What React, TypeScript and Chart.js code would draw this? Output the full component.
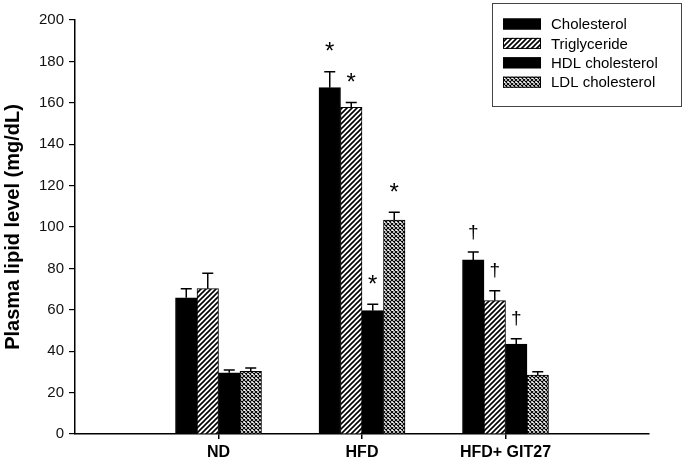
import React, { useEffect, useRef } from 'react';
import { Chart, registerables } from 'chart.js';

Chart.register(...registerables);

const groups = ['ND', 'HFD', 'HFD+ GIT27'];
const cholesterol = [65.8, 167.3, 84.1];
const cholesterolErr = [4.4, 7.7, 3.8];
const triglyceride = [70.2, 157.8, 64.4];
const triglycerideErr = [7.4, 2.4, 4.8];
const hdl = [29.6, 59.6, 43.5];
const hdlErr = [1.3, 3.1, 2.5];
const ldl = [30.3, 103.4, 28.5];
const ldlErr = [1.6, 3.7, 1.6];
const cholesterolMarks = ['', '*', '†'];
const triglycerideMarks = ['', '*', '†'];
const hdlMarks = ['', '*', '†'];
const ldlMarks = ['', '*', ''];
const seriesNames = ['Cholesterol', 'Triglyceride', 'HDL cholesterol', 'LDL cholesterol'];
const yTitle = 'Plasma lipid level (mg/dL)';

const FONT = '"Liberation Sans", Arial, sans-serif';

function makeHatch(): CanvasPattern | string {
  const c = document.createElement('canvas');
  c.width = 5;
  c.height = 5;
  const g = c.getContext('2d');
  if (!g) return '#fff';
  g.fillStyle = '#fff';
  g.fillRect(0, 0, 5, 5);
  g.strokeStyle = '#000';
  g.lineWidth = 1.6;
  g.beginPath();
  g.moveTo(-1, 6);
  g.lineTo(6, -1);
  g.moveTo(-6, 6);
  g.lineTo(1, -1);
  g.moveTo(4, 6);
  g.lineTo(11, -1);
  g.stroke();
  return g.createPattern(c, 'repeat') || '#fff';
}

function makeCross(): CanvasPattern | string {
  const c = document.createElement('canvas');
  c.width = 4;
  c.height = 4;
  const g = c.getContext('2d');
  if (!g) return '#888';
  g.fillStyle = '#fff';
  g.fillRect(0, 0, 4, 4);
  g.strokeStyle = '#000';
  g.lineWidth = 1.1;
  g.beginPath();
  for (let k = -8; k <= 8; k += 4) {
    g.moveTo(k, 0);
    g.lineTo(k + 4, 4);
    g.moveTo(k, 4);
    g.lineTo(k + 4, 0);
  }
  g.stroke();
  return g.createPattern(c, 'repeat') || '#888';
}

export default function App() {
  const ref = useRef<HTMLCanvasElement | null>(null);

  useEffect(() => {
    document.body.style.margin = '0';
    const canvas = ref.current;
    if (!canvas) return;
    const hatch = makeHatch();
    const cross = makeCross();
    const fills: any[] = ['#000', hatch, '#000', cross];
    const values = [cholesterol, triglyceride, hdl, ldl];
    const errs = [cholesterolErr, triglycerideErr, hdlErr, ldlErr];
    const marks = [cholesterolMarks, triglycerideMarks, hdlMarks, ldlMarks];
    const labels = ['', ...groups, ''];

    const extras = {
      id: 'extras',
      afterDatasetsDraw(chart: any) {
        const ctx = chart.ctx;
        const yScale = chart.scales.y;
        ctx.save();
        // error bars and significance marks
        chart.data.datasets.forEach((ds: any, di: number) => {
          const meta = chart.getDatasetMeta(di);
          meta.data.forEach((el: any, i: number) => {
            const gi = i - 1;
            if (gi < 0 || gi >= groups.length) return;
            const v = values[di][gi];
            const e = errs[di][gi];
            const x = el.x;
            const yb = yScale.getPixelForValue(v);
            const yt = yScale.getPixelForValue(v + e);
            ctx.strokeStyle = '#000';
            ctx.lineWidth = 1.5;
            ctx.beginPath();
            ctx.moveTo(x, yb);
            ctx.lineTo(x, yt);
            ctx.moveTo(x - 5.5, yt);
            ctx.lineTo(x + 5.5, yt);
            ctx.stroke();
            const m = marks[di][gi];
            if (m) {
              const star = m === '*';
              ctx.font = (star ? '24px ' : '19px ') + FONT;
              ctx.fillStyle = '#000';
              ctx.textAlign = 'center';
              ctx.textBaseline = 'alphabetic';
              const mt = ctx.measureText(m);
              const asc = mt.actualBoundingBoxAscent;
              const desc = mt.actualBoundingBoxDescent;
              const cy = yt - (star ? 25 : 20);
              ctx.fillText(m, x, cy + (asc - desc) / 2);
            }
          });
        });
        // legend
        const bx = 492, by = 3, bw = 189, bh = 103;
        ctx.strokeStyle = '#444';
        ctx.lineWidth = 1;
        ctx.strokeRect(bx + 0.5, by + 0.5, bw, bh);
        ctx.font = '15px ' + FONT;
        ctx.textAlign = 'left';
        ctx.textBaseline = 'middle';
        seriesNames.forEach((name, i) => {
          const cy = 24 + i * 19.4;
          ctx.fillStyle = fills[i];
          ctx.fillRect(503, cy - 5.5, 38, 11);
          ctx.strokeStyle = '#000';
          ctx.lineWidth = 1;
          ctx.strokeRect(503.5, cy - 5, 37, 10);
          ctx.fillStyle = '#000';
          ctx.fillText(name, 551, cy + 1);
        });
        ctx.restore();
      },
    };

    const chart = new Chart(canvas, {
      type: 'bar',
      data: {
        labels,
        datasets: seriesNames.map((name, i) => ({
          label: name,
          data: [null, ...values[i], null],
          backgroundColor: fills[i],
          borderColor: '#000',
          borderWidth: 1,
          barThickness: 21.5,
        })),
      },
      options: {
        responsive: false,
        animation: false,
        devicePixelRatio: 1,
        layout: { padding: { top: 20, right: 35, left: 0, bottom: 0 } },
        plugins: {
          legend: { display: false },
          tooltip: { enabled: false },
        },
        scales: {
          x: {
            type: 'category',
            offset: false,
            grid: {
              offset: false,
              drawOnChartArea: false,
              drawTicks: true,
              tickLength: 5,
              lineWidth: 1.5,
              color: (c: any) => (c.index === 0 || c.index === labels.length - 1 ? 'rgba(0,0,0,0)' : '#000'),
            },
            border: { display: true, color: '#000', width: 1.5 },
            ticks: {
              autoSkip: false,
              maxRotation: 0,
              padding: 4,
              color: '#000',
              font: { family: FONT, size: 16, weight: 'bold' },
            },
            afterFit: (s: any) => {
              s.height = 28;
            },
          },
          y: {
            min: 0,
            max: 200,
            ticks: {
              stepSize: 20,
              padding: 5,
              color: '#111',
              font: { family: FONT, size: 15 },
            },
            grid: {
              drawOnChartArea: false,
              drawTicks: true,
              tickLength: 6,
              lineWidth: 1.2,
              color: '#000',
            },
            border: { display: true, color: '#000', width: 1.5 },
            title: {
              display: true,
              text: yTitle,
              color: '#000',
              padding: { top: 1, bottom: 0 },
              font: { family: FONT, size: 20, weight: 'bold' },
            },
            afterFit: (s: any) => {
              s.width = 75;
            },
          },
        },
      },
      plugins: [extras],
    });
    return () => chart.destroy();
  }, []);

  return <canvas ref={ref} width={684} height={462} style={{ display: 'block' }} />;
}
